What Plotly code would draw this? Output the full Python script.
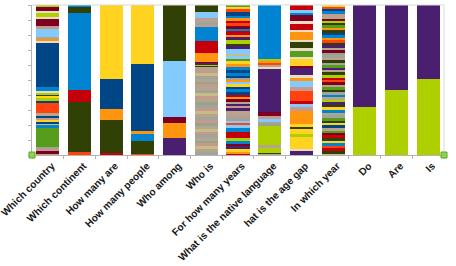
import plotly.graph_objects as go

categories = ["Which country", "Which continent", "How many are", "How many people",
              "Who among", "Who is", "For how many years", "What is the native language",
              "hat is the age gap", "In which year", "Do", "Are", "Is"]

# Segment shares per category, listed from the top of each bar downwards
which_country_vals = [1.1, 2.9, 1.1, 3.1, 0.9, 4.9, 1.8, 5.3, 1.1, 1.6, 1.1, 30.0, 2.2, 1.3, 1.2, 1.0,
                      1.5, 1.2, 2.2, 6.7, 1.5, 1.0, 1.9, 1.2, 0.8, 1.3, 1.8, 12.7, 1.5, 1.5, 1.2, 1.3]
which_country_keys = ["LI", "MA", "LT", "LI", "LT", "MA", "PK", "LB", "TA", "OG", "LT", "DB", "BL", "LT", "LI", "OL",
                      "YE", "LI", "DB", "OR", "TA", "DB", "PK", "YE", "DB", "KH", "BL", "GR", "GY", "PK", "MA", "TA"]

which_continent_vals = [1.6, 3.6, 51.5, 8.2, 32.9, 2.2]
which_continent_keys = ["BL", "OL", "BL", "RE", "OL", "OR"]

how_many_are_vals = [49.3, 20.2, 7.1, 22.2, 1.1]
how_many_are_keys = ["YE", "DB", "OG", "OL", "RE"]

how_many_people_vals = [39.6, 44.2, 2.4, 4.2, 9.1, 0.5]
how_many_people_keys = ["YE", "DB", "OG", "BL", "OL", "OR"]

who_among_vals = [37.3, 37.6, 4.0, 9.6, 11.5]
who_among_keys = ["OL", "LB", "MA", "OG", "PU"]

who_is_vals = [4.4, 4.4, 1.4, 1.4, 1.4, 1.4, 9.3, 8.4, 5.6, 0.8, 0.8, 0.9, 0.9,
               2.0, 1.9, 2.1, 1.9, 2.0, 1.8, 2.0, 2.1, 1.9, 2.0, 1.9, 2.0, 2.1, 1.8, 2.0,
               1.9, 2.0, 2.1, 1.9, 1.8, 2.0, 2.0, 1.9, 2.1, 2.0, 1.8, 1.9, 2.0, 2.0, 1.9]
who_is_keys = ["OL", "LB", "PK", "TA", "GY", "PK", "BL", "RE", "OG", "MA", "PU", "LI", "OL",
               "TA", "PK", "KH", "GY", "TA", "SG", "PK", "TA", "GY", "KH", "PK", "TA", "SG", "GY", "PK",
               "KH", "TA", "GY", "PK", "SG", "TA", "KH", "PK", "GY", "TA", "SG", "PK", "KH", "TA", "GY"]

how_many_years_vals = [1.1, 1.6, 1.8, 2.7, 1.6, 1.8, 1.6, 1.8, 2.2, 1.6, 2.2, 1.8, 2.2, 2.2, 1.6, 1.8,
                       3.3, 1.6, 1.8, 1.8, 1.8, 2.0, 2.2, 1.6, 2.2, 1.3, 1.6, 1.1, 1.8, 1.8, 1.6, 2.0,
                       1.8, 1.3, 1.3, 1.8, 1.3, 1.6, 1.6, 2.2, 2.2, 1.8, 2.2, 1.6, 1.6, 1.8, 2.7, 4.0,
                       2.2, 1.8, 1.8, 2.0, 1.6, 1.3, 0.9]
how_many_years_keys = ["GR", "YE", "OR", "DB", "BL", "OG", "RE", "OR", "MA", "BL", "RE", "OG", "PU", "LI", "OL", "PU",
                       "LB", "KH", "LB", "GR", "YE", "OG", "BL", "DB", "BL", "DB", "GY", "OG", "LB", "YE", "DB", "BL",
                       "DB", "RE", "OG", "MA", "TA", "PU", "PK", "PU", "TA", "PK", "GY", "LB", "OR", "LB", "BL", "RE",
                       "LI", "BL", "MA", "PU", "YE", "OG", "RE"]

native_language_vals = [36.2, 1.1, 1.1, 1.3, 1.6, 1.1, 28.9, 2.9, 1.6, 2.2, 1.1, 1.6, 12.9, 1.8, 3.1, 0.7, 0.9]
native_language_keys = ["BL", "LI", "OG", "OR", "TA", "LT", "PU", "MA", "PK", "LB", "GY", "SG", "LI", "TA", "LI", "OL", "TA"]

age_gap_vals = [3.5, 1.6, 1.8, 4.0, 1.6, 4.4, 1.1, 5.6, 1.6, 4.0, 1.6, 4.0, 1.1, 4.9, 1.8, 4.9, 1.3,
                2.7, 4.0, 2.2, 7.1, 1.8, 2.2, 2.7, 8.9, 1.6, 1.8, 3.3, 2.2, 7.8, 0.7, 3.3]
age_gap_keys = ["RE", "LB", "BL", "MA", "LT", "RE", "LT", "OG", "LT", "OL", "LT", "GR", "LT", "YE", "MA", "PU", "LT",
                "OG", "LB", "PK", "OR", "RE", "LB", "PK", "OG", "YE", "OL", "YE", "LI", "YE", "LT", "PU"]

which_year_vals = [1.3, 1.3, 1.8, 1.6, 1.6, 1.8, 1.3, 1.3, 1.8, 1.8, 1.6, 1.6, 1.8, 1.8, 1.6, 1.6,
                   1.8, 1.8, 1.8, 1.3, 1.8, 1.8, 1.6, 1.8, 1.6, 1.8, 1.6, 1.6, 1.8, 1.8, 1.6, 1.6,
                   1.8, 1.8, 1.6, 1.6, 1.8, 1.8, 1.6, 1.6, 1.8, 1.8, 1.8, 2.0, 1.6, 1.8, 1.8, 1.6,
                   1.6, 1.8, 1.8, 1.6, 1.6, 1.8, 1.8, 1.6, 2.2, 1.6, 1.8, 1.8, 0.9]
which_year_keys = ["YE", "OR", "DB", "BL", "PK", "TA", "MA", "LI", "OL", "GR", "OG", "OL", "DB", "BL", "OG", "OR",
                   "OL", "PU", "TA", "MA", "SG", "GY", "TA", "OL", "GY", "GR", "PU", "TA", "OL", "LI", "RE", "OR",
                   "MA", "TA", "GR", "OL", "GY", "BL", "TA", "LI", "PU", "OL", "YE", "BL", "TA", "GY", "GR", "OL",
                   "YE", "DB", "TA", "GR", "MA", "RE", "OL", "YE", "BL", "OR", "RE", "OL", "KH"]

do_vals, do_keys = [67.8, 32.2], ["PU", "LI"]
are_vals, are_keys = [56.7, 43.3], ["PU", "LI"]
is_vals, is_keys = [49.6, 50.4], ["PU", "LI"]

palette = {
    "DB": "#004586", "OR": "#ff420e", "YE": "#ffd320", "GR": "#579d1c", "MA": "#7e0021",
    "LB": "#83caff", "OL": "#314004", "LI": "#aecf00", "PU": "#4b1f6f", "OG": "#ff950e",
    "RE": "#c5000b", "BL": "#0084d1", "TA": "#b3a68c", "GY": "#a3a39a", "PK": "#c49a8e",
    "KH": "#c8bc86", "LT": "#e8dcc4", "SG": "#97a38c",
}

all_vals = [which_country_vals, which_continent_vals, how_many_are_vals, how_many_people_vals,
            who_among_vals, who_is_vals, how_many_years_vals, native_language_vals,
            age_gap_vals, which_year_vals, do_vals, are_vals, is_vals]
all_keys = [which_country_keys, which_continent_keys, how_many_are_keys, how_many_people_keys,
            who_among_keys, who_is_keys, how_many_years_keys, native_language_keys,
            age_gap_keys, which_year_keys, do_keys, are_keys, is_keys]

# bottom-up ordering
bu_vals = [list(reversed(v)) for v in all_vals]
bu_keys = [list(reversed(k)) for k in all_keys]
levels = max(len(v) for v in bu_vals)

fig = go.Figure()
for lev in range(levels):
    ys, cols = [], []
    for v, k in zip(bu_vals, bu_keys):
        if lev < len(v):
            ys.append(v[lev]); cols.append(palette[k[lev]])
        else:
            ys.append(0); cols.append("rgba(0,0,0,0)")
    fig.add_trace(go.Bar(x=categories, y=ys, marker=dict(color=cols, line=dict(width=0)),
                         showlegend=False, hoverinfo="skip"))

fig.update_layout(
    barmode="stack", barnorm="percent", bargap=0.27,
    width=456, height=266,
    margin=dict(l=32, r=12, t=5, b=111),
    paper_bgcolor="white", plot_bgcolor="white",
    xaxis=dict(tickangle=-45, tickson="boundaries", ticks="outside", ticklen=3, automargin=False,
               ticklabelshift=4,
               tickcolor="#b3b3b3", showline=True, linecolor="#b3b3b3", linewidth=1,
               showgrid=False, tickfont=dict(family="Liberation Sans", size=10.2, color="#1a1a1a", weight="bold")),
    yaxis=dict(range=[0, 100], dtick=10, ticks="outside", ticklen=3, tickcolor="#b3b3b3", automargin=False,
               showticklabels=False, showline=True, linecolor="#b3b3b3", linewidth=1,
               showgrid=False, zeroline=False),
    shapes=[
        dict(type="line", xref="paper", yref="paper", x0=0, x1=1, y0=1, y1=1,
             line=dict(color="#d9d9d9", width=1)),
        dict(type="line", xref="paper", yref="paper", x0=1, x1=1, y0=0, y1=1,
             line=dict(color="#d9d9d9", width=1)),
        dict(type="rect", xref="paper", yref="paper", xsizemode="pixel", ysizemode="pixel",
             xanchor=0, yanchor=0, x0=-3, x1=3, y0=-3, y1=3,
             fillcolor="#8cd44a", line=dict(color="#5fa52a", width=1)),
        dict(type="rect", xref="paper", yref="paper", xsizemode="pixel", ysizemode="pixel",
             xanchor=1, yanchor=0, x0=-3, x1=3, y0=-3, y1=3,
             fillcolor="#8cd44a", line=dict(color="#5fa52a", width=1)),
    ],
)

fig.write_html("out.html")
